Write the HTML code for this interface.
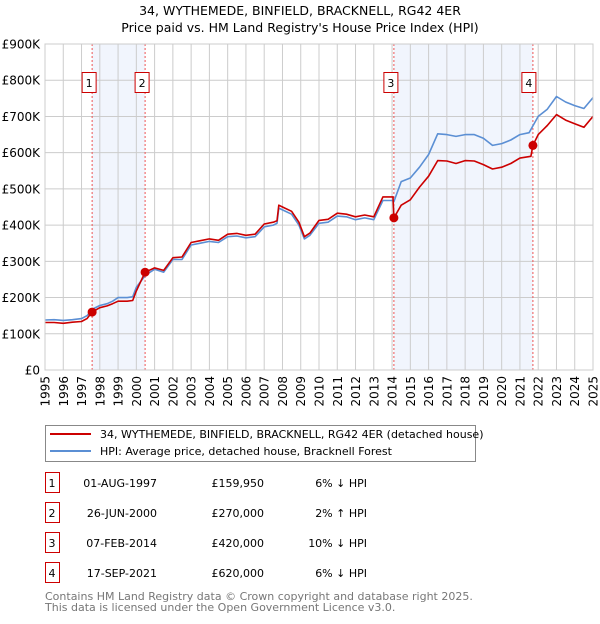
<!DOCTYPE html>
<html><head><meta charset="utf-8">
<style>
body{margin:0;background:#fff;font-family:"DejaVu Sans","Liberation Sans",sans-serif;}
svg text{font-family:"DejaVu Sans","Liberation Sans",sans-serif;}
</style></head>
<body>
<svg id="chart" width="600" height="620" viewBox="0 0 600 620" xmlns="http://www.w3.org/2000/svg">
<text x="300" y="15" text-anchor="middle" font-size="12.5">34, WYTHEMEDE, BINFIELD, BRACKNELL, RG42 4ER</text>
<text x="300" y="32" text-anchor="middle" font-size="12.5">Price paid vs. HM Land Registry's House Price Index (HPI)</text>
<g id="plot"></g>
<g>
<rect x="45.5" y="425.5" width="430" height="36" fill="#fff" stroke="#888"/>
<line x1="50" y1="434" x2="91" y2="434" stroke="#cc0000" stroke-width="2"/>
<text x="100" y="438" font-size="11">34, WYTHEMEDE, BINFIELD, BRACKNELL, RG42 4ER (detached house)</text>
<line x1="50" y1="451" x2="91" y2="451" stroke="#5b8fd4" stroke-width="2"/>
<text x="100" y="455" font-size="11">HPI: Average price, detached house, Bracknell Forest</text>
</g>
<g id="table" font-size="11"></g>
<text x="45" y="600" font-size="11" fill="#777">Contains HM Land Registry data © Crown copyright and database right 2025.</text>
<text x="45" y="611" font-size="11" fill="#777">This data is licensed under the Open Government Licence v3.0.</text>
</svg>
<script>
const hpiYears=[1995,1995.5,1996,1996.5,1997,1997.3,1997.6,1998,1998.4,1998.7,1999,1999.5,1999.8,2000,2000.5,2001,2001.5,2002,2002.5,2003,2003.5,2004,2004.5,2005,2005.5,2006,2006.5,2007,2007.5,2007.7,2007.8,2008,2008.5,2008.9,2009.2,2009.5,2010,2010.5,2011,2011.5,2012,2012.5,2013,2013.5,2014,2014.1,2014.5,2015,2015.5,2016,2016.5,2017,2017.5,2018,2018.5,2019,2019.5,2020,2020.5,2021,2021.5,2022,2022.5,2023,2023.5,2024,2024.5,2025];
const hpiValues=[138,139,137,139,142,150,168,178,183,190,200,200,202,228,262,278,270,305,305,345,350,355,352,368,370,365,368,395,400,405,447,442,430,400,362,372,405,408,425,423,415,420,415,468,468,465,520,530,560,595,652,650,645,650,650,640,620,625,635,650,655,700,720,755,740,730,722,752];
const priceYears=[1995,1995.5,1996,1996.5,1997,1997.3,1997.58,1998,1998.4,1998.7,1999,1999.5,1999.8,2000,2000.48,2001,2001.5,2002,2002.5,2003,2003.5,2004,2004.5,2005,2005.5,2006,2006.5,2007,2007.5,2007.7,2007.8,2008,2008.5,2008.9,2009.2,2009.5,2010,2010.5,2011,2011.5,2012,2012.5,2013,2013.5,2014.05,2014.1,2014.5,2015,2015.5,2016,2016.5,2017,2017.5,2018,2018.5,2019,2019.5,2020,2020.5,2021,2021.6,2021.71,2022,2022.5,2023,2023.5,2024,2024.5,2025];
const priceValues=[131,131,129,132,134,142,160,172,177,183,190,190,192,218,270,282,275,310,312,352,357,362,358,375,377,372,375,403,408,412,455,450,438,408,368,378,413,416,433,430,423,428,423,478,478,420,455,470,505,535,578,577,570,578,577,567,555,560,570,585,590,620,650,675,705,690,680,670,700];
const saleYears=[1997.58,2000.48,2014.1,2021.71];
const saleValues=[159.95,270,420,620];
const saleLabels=["1","2","3","4"];
const saleDates=["01-AUG-1997","26-JUN-2000","07-FEB-2014","17-SEP-2021"];
const salePrices=["£159,950","£270,000","£420,000","£620,000"];
const saleDiffs=["6% ↓ HPI","2% ↑ HPI","10% ↓ HPI","6% ↓ HPI"];
const yTicks=[0,100,200,300,400,500,600,700,800,900];
const yTickLabels=["£0","£100K","£200K","£300K","£400K","£500K","£600K","£700K","£800K","£900K"];
const xTicks=[1995,1996,1997,1998,1999,2000,2001,2002,2003,2004,2005,2006,2007,2008,2009,2010,2011,2012,2013,2014,2015,2016,2017,2018,2019,2020,2021,2022,2023,2024,2025];

const X0=45,X1=593,Y0=370,Y1=44;
const xs=y=>X0+(y-1995)/30*(X1-X0);
const ys=v=>Y0-v/900*(Y0-Y1);
const NS="http://www.w3.org/2000/svg";
const plot=document.getElementById('plot');
function mk(tag,attrs,parent){const e=document.createElementNS(NS,tag);for(const k in attrs)e.setAttribute(k,attrs[k]);(parent||plot).appendChild(e);return e;}

// shaded spans
for(let i=0;i<saleYears.length;i+=2){
  const r=mk('rect',{x:xs(saleYears[i]),y:Y1,width:xs(saleYears[i+1])-xs(saleYears[i]),height:Y0-Y1,fill:'#eef3fc',opacity:0.8});
  
  
}
// grid
yTicks.forEach((t,i)=>{
  const l=mk('line',{x1:X0,x2:X1,y1:ys(t),y2:ys(t),stroke:'#cccccc','stroke-width':1});
  
  
  const tx=mk('text',{x:40,y:ys(t)+4.5,'text-anchor':'end','font-size':12});
  tx.textContent=yTickLabels[i];
  
  
});
xTicks.forEach(t=>{
  const l=mk('line',{x1:xs(t),x2:xs(t),y1:Y1,y2:Y0,stroke:'#cccccc','stroke-width':1});
  
  
  const tx=mk('text',{x:0,y:0,'text-anchor':'end','font-size':12,transform:`translate(${xs(t)+4.5},${Y0+6}) rotate(-90)`});
  tx.textContent=t;
  
  
});
// sale vlines
saleYears.forEach(s=>{
  const l=mk('line',{x1:xs(s),x2:xs(s),y1:Y1,y2:Y0,stroke:'#ee5555','stroke-width':1,'stroke-dasharray':'2,2'});
  
  
});
function path(xa,va,color,name){
  const d=xa.map((x,i)=>(i?'L':'M')+xs(x).toFixed(1)+','+ys(va[i]).toFixed(1)).join('');
  const p=mk('path',{d:d,fill:'none',stroke:color,'stroke-width':1.6,'stroke-linejoin':'round'});
  
  
}
path(hpiYears,hpiValues,'#5b8fd4','hpi-line');
path(priceYears,priceValues,'#cc0000','price-line');
saleYears.forEach((s,i)=>{
  const c=mk('circle',{cx:xs(s),cy:ys(saleValues[i]),r:4.5,fill:'#cc0000'});
  
  
  const r=mk('rect',{x:xs(s)-7-(i==3?4:3),y:72.5,width:14,height:20,fill:'#fff',stroke:'#cc0000'});
  
  
  const t=mk('text',{x:xs(s)-(i==3?4:3),y:87,'text-anchor':'middle','font-size':11});
  t.textContent=saleLabels[i];
  
  
});
const ax=mk('rect',{x:X0,y:Y1,width:X1-X0,height:Y0-Y1,fill:'none',stroke:'#cccccc'});



// table
const tb=document.getElementById('table');
const rowY=[483,513,543,573];
saleLabels.forEach((lab,i)=>{
  const y=rowY[i];
  const r=mk('rect',{x:45.5,y:y-10.5,width:14,height:20,fill:'#fff',stroke:'#cc0000'},tb);
  
  
  const cells=[[52,'middle',lab,'table-row-number'],[157,'end',saleDates[i],'table-row-date'],[264,'end',salePrices[i],'table-row-price'],[367,'end',saleDiffs[i],'table-row-diff']];
  cells.forEach(c=>{
    const t=mk('text',{x:c[0],y:y+4,'text-anchor':c[1]},tb);
    t.textContent=c[2];
    
    
  });
});
</script>
</body></html>
